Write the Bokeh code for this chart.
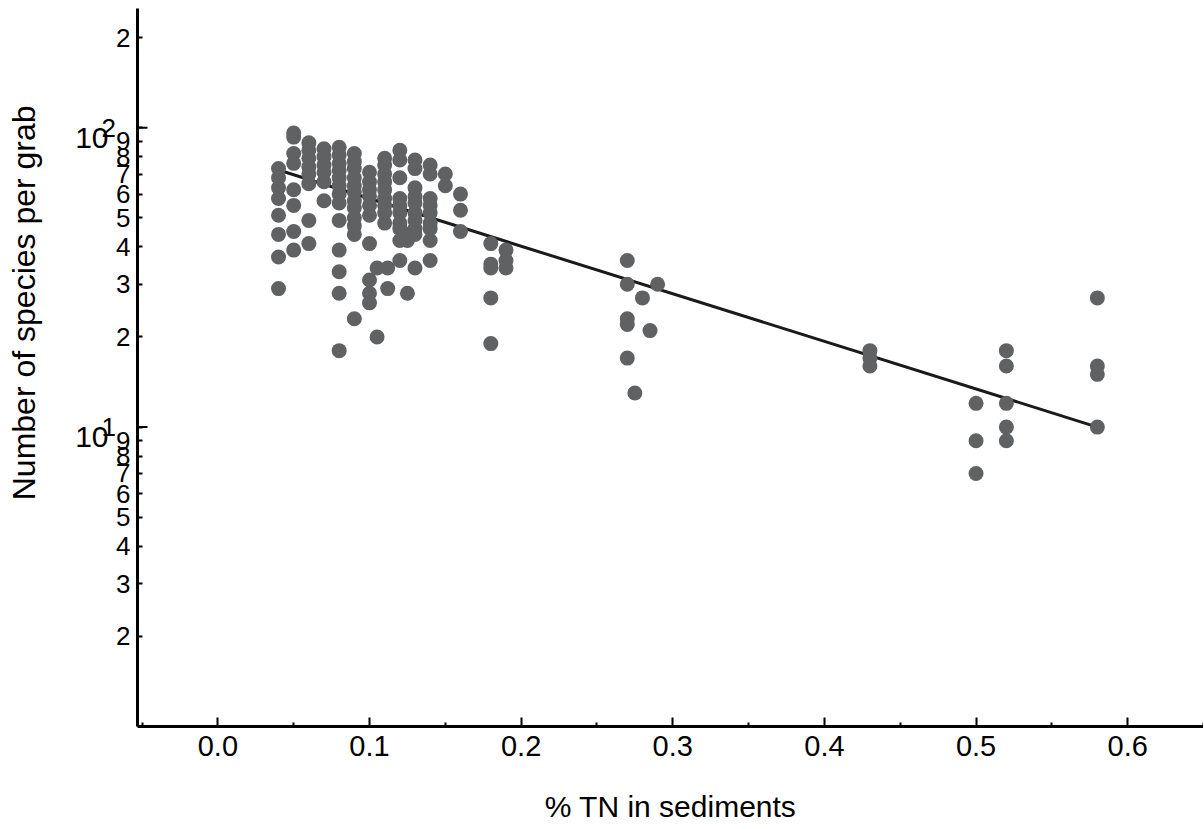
import math
from bokeh.plotting import figure
from bokeh.models import FixedTicker, Range1d, NumeralTickFormatter, LogAxis
from bokeh.embed import file_html
from bokeh.resources import INLINE

# ---- data: species per grab by %TN column ----
tn_004 = [73, 68, 63, 58, 51, 44, 37, 29]
tn_005 = [96, 93, 82, 76, 62, 55, 45, 39]
tn_006 = [89, 84, 79, 74, 70, 65, 49, 41]
tn_007 = [85, 80, 75, 71, 66, 57]
tn_008 = [86, 81, 76, 72, 68, 64, 60, 56, 49, 39, 33, 28, 18]
tn_009 = [82, 77, 73, 68, 64, 61, 57, 54, 50, 47, 44, 23]
tn_010 = [71, 66, 62, 59, 55, 51, 41, 31, 28, 26]
tn_0105 = [34, 20]
tn_011 = [79, 75, 70, 66, 62, 58, 55, 52, 48]
tn_0112 = [34, 29]
tn_012 = [84, 78, 68, 58, 55, 52, 48, 46, 42, 36]
tn_0125 = [44, 42, 28]
tn_013 = [78, 73, 63, 59, 56, 52, 49, 46, 44, 34]
tn_014 = [75, 70, 58, 55, 52, 48, 46, 42, 36]
tn_015 = [70, 64]
tn_016 = [60, 53, 45]
tn_018 = [41, 35, 34, 27, 19]
tn_019 = [39, 36, 34]
tn_027 = [36, 30, 23, 22, 17]
tn_0275 = [13]
tn_028 = [27]
tn_0285 = [21]
tn_029 = [30]
tn_043 = [18, 17, 16]
tn_050 = [12, 9, 7]
tn_052 = [18, 16, 12, 10, 9]
tn_058 = [27, 16, 15, 10]

columns = [
    (0.04, tn_004), (0.05, tn_005), (0.06, tn_006), (0.07, tn_007),
    (0.08, tn_008), (0.09, tn_009), (0.10, tn_010), (0.105, tn_0105),
    (0.11, tn_011), (0.112, tn_0112), (0.12, tn_012), (0.125, tn_0125),
    (0.13, tn_013), (0.14, tn_014), (0.15, tn_015), (0.16, tn_016),
    (0.18, tn_018), (0.19, tn_019), (0.27, tn_027), (0.275, tn_0275),
    (0.28, tn_028), (0.285, tn_0285), (0.29, tn_029), (0.43, tn_043),
    (0.50, tn_050), (0.52, tn_052), (0.58, tn_058),
]

# regression line end points
fit_x = [0.04, 0.58]
fit_y = [72.2, 10.0]

x_ticks = [0.0, 0.1, 0.2, 0.3, 0.4, 0.5, 0.6]
x_minor = [-0.05, 0.05, 0.15, 0.25, 0.35, 0.45, 0.55, 0.65]
y_decades = [10, 100]
y_decade_base = ["10", "10"]
y_tick_vals = [2, 3, 4, 5, 6, 7, 8, 9, 10, 20, 30, 40, 50, 60, 70, 80, 90, 100, 200]
y_tick_labels = ["2", "3", "4", "5", "6", "7", "8", "9", "1",
                 "2", "3", "4", "5", "6", "7", "8", "9", "2", "2"]

XMIN, XMAX = -0.053, 0.65
YMIN, YMAX = 1.0, 250.0
FONT = "Liberation Sans"
PX_PER_DECADE = 718 / math.log10(YMAX / YMIN)
EXP_PAD = "\u00a0\u00a0"   # pushes the decade exponents left, next to the "10"

xs, ys = [], []
for tn, vals in columns:
    for v in vals:
        xs.append(tn)
        ys.append(v)

p = figure(width=1203, height=828, output_backend="svg", toolbar_location=None,
           y_axis_type="log", x_range=Range1d(XMIN, XMAX), y_range=Range1d(YMIN, YMAX),
           min_border_left=137, min_border_right=0, min_border_top=8, min_border_bottom=102)
p.outline_line_color = None
p.grid.visible = False
p.background_fill_color = "white"
p.border_fill_color = "white"

p.line(fit_x, fit_y, line_width=3, line_color="#1a1a1a")
p.scatter(xs, ys, size=15, fill_color="#606163", line_color=None)
# longer inner ticks at the decades (half of the dash is clipped by the frame)
p.scatter([XMIN] * len(y_decades), y_decades, marker="dash", size=20,
          line_color="black", line_width=2)

# x axis
xa = p.xaxis[0]
xa.ticker = FixedTicker(ticks=x_ticks, minor_ticks=x_minor)
xa.formatter = NumeralTickFormatter(format="0.0")
xa.axis_line_width = 3
xa.axis_line_color = "black"
xa.major_tick_in = 9
xa.major_tick_out = 0
xa.minor_tick_in = 4
xa.minor_tick_out = 0
xa.major_tick_line_width = 2
xa.minor_tick_line_width = 2
xa.major_label_text_font = FONT
xa.major_label_text_font_size = "29px"
xa.major_label_text_color = "black"
xa.major_label_standoff = 9
xa.axis_label = "% TN in sediments"
xa.axis_label_text_font = FONT
xa.axis_label_text_font_size = "30px"
xa.axis_label_text_font_style = "normal"
xa.axis_label_text_color = "black"
xa.axis_label_standoff = 31

# y axis (ticks + digit labels)
ya = p.yaxis[0]
ya.ticker = FixedTicker(ticks=y_tick_vals, minor_ticks=[])
ya.major_label_overrides = {
    t: (s + EXP_PAD if t in y_decades else s) for t, s in zip(y_tick_vals, y_tick_labels)
}
ya.axis_line_width = 3
ya.axis_line_color = "black"
ya.major_tick_in = 5
ya.major_tick_out = 0
ya.major_tick_line_width = 2
ya.major_label_text_font = FONT
ya.major_label_text_font_size = "26px"
ya.major_label_text_color = "black"
ya.major_label_standoff = 7

# second left axis: the "10" bases of the decade labels, set just below each decade
shift = 10 ** (-10 / PX_PER_DECADE)
base_pos = [d * shift for d in y_decades]
yb = LogAxis(ticker=FixedTicker(ticks=base_pos, minor_ticks=[]))
yb.major_label_overrides = {t: s for t, s in zip(base_pos, y_decade_base)}
yb.axis_line_color = None
yb.major_tick_line_color = None
yb.minor_tick_line_color = None
yb.major_label_text_font = FONT
yb.major_label_text_font_size = "30px"
yb.major_label_text_color = "black"
yb.major_label_standoff = -16
p.add_layout(yb, "left")

# third left axis: carries the y title as a rotated label
title_pos = [26]
yc = LogAxis(ticker=FixedTicker(ticks=title_pos, minor_ticks=[]))
yc.major_label_overrides = {title_pos[0]: "Number of species per grab"}
yc.major_label_orientation = "parallel"
yc.axis_line_color = None
yc.major_tick_line_color = None
yc.minor_tick_line_color = None
yc.major_label_text_font = FONT
yc.major_label_text_font_size = "32px"
yc.major_label_text_color = "black"
yc.major_label_standoff = 24
p.add_layout(yc, "left")

open("out.html", "w").write(file_html(p, INLINE))
